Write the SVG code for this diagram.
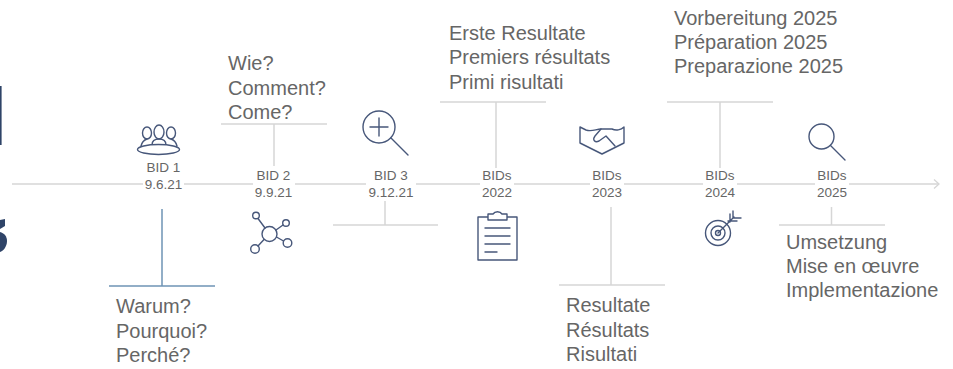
<svg xmlns="http://www.w3.org/2000/svg" width="953" height="369" viewBox="0 0 953 369">
<style>
text{font-family:"Liberation Sans",Arial,sans-serif;fill:#666}
.t{font-size:20px}
.d{font-size:13.500px;text-anchor:middle}
.l{stroke:#d6d6d6;stroke-width:1.500;fill:none}
.i{stroke:#47577a;stroke-width:1.400;fill:none;stroke-linecap:round;stroke-linejoin:round}
.w{fill:#fff}
</style>
<defs>
<marker id="arrow" markerWidth="12" markerHeight="12" refX="8" refY="6" orient="auto" markerUnits="userSpaceOnUse"><path d="M3 1.500L8 6L3 10.500" fill="none" stroke="#d6d6d6" stroke-width="1.300"/></marker>
</defs>
<rect width="953" height="369" fill="#fff"/>
<g id="logo-fragment" fill="#2f4468">
<rect x="0" y="86" width="1.600" height="59"/>
<path d="M0 220L5 219L5 226L0 229Z"/>
<path d="M0 232C4 233 7 236 7 241C7 247 3 251 0 252Z"/>
</g>
<g id="connectors">
<line class="l" x1="12" y1="184" x2="939" y2="184" marker-end="url(#arrow)"/>
<path d="M162 209V286M109 286H215" fill="none" stroke="#6f94b5" stroke-width="1.500"/>
<path class="l" d="M274 124V166M221 124H327"/>
<path class="l" d="M385 201V225M333 225H438"/>
<path class="l" d="M496 102V168M440 102H546"/>
<path class="l" d="M611 207V285M559 285H665"/>
<path class="l" d="M720 102V168M667 102H773"/>
<path class="l" d="M831.500 207V225M779 225H885"/>
</g>
<g id="bid1">
<rect class="w" x="143" y="160" width="41" height="48"/>
<text class="d" x="163.500" y="172">BID 1</text><text class="d" x="163.500" y="189">9.6.21</text>
<g class="i">
<ellipse cx="147" cy="133" rx="4.500" ry="6"/><ellipse cx="171" cy="133" rx="4.500" ry="6"/>
<path d="M141 146C142 142 144 140 147 139M177 146C176 142 174 140 171 139"/>
<ellipse class="w" cx="159" cy="132" rx="5" ry="7"/>
<path d="M152 145C152 141 155 139 159 139C163 139 166 141 166 145"/>
<ellipse class="w" cx="158.500" cy="149.500" rx="21" ry="5"/>
</g>
</g>
<g id="bid2">
<rect class="w" x="253" y="168" width="42" height="32"/>
<text class="d" x="273.500" y="180">BID 2</text><text class="d" x="273.500" y="197">9.9.21</text>
<g class="i">
<circle cx="269.500" cy="234" r="7.500"/><circle cx="256" cy="215.500" r="3.300"/><circle cx="286" cy="223" r="3.300"/><circle cx="255" cy="249" r="4.300"/><circle cx="287.500" cy="243" r="4.300"/>
<path d="M258 218.500L265 228M283 225L276 230M258 246L264 239.500M283.500 241L276.500 237"/>
</g>
</g>
<g id="bid3">
<rect class="w" x="366" y="167" width="50" height="34"/>
<text class="d" x="391" y="180">BID 3</text><text class="d" x="391" y="197">9.12.21</text>
<g class="i">
<circle cx="379" cy="127" r="16"/><path d="M379 118V136M370 127H388M391 138L408 155"/>
</g>
</g>
<g id="bids2022">
<rect class="w" x="480" y="168" width="34" height="32"/>
<text class="d" x="497" y="180">BIDs</text><text class="d" x="497" y="197">2022</text>
<g class="i">
<path d="M488 217H478V260H517V217H507M488 220V214H493C495 211 500 211 502 214H507V220Z"/>
<path d="M485 228H510M485 236H510M485 244H510M485 252H497"/>
</g>
</g>
<g id="bids2023">
<rect class="w" x="590" y="168" width="34" height="32"/>
<text class="d" x="607" y="180">BIDs</text><text class="d" x="607" y="197">2023</text>
<g class="i">
<path d="M580 127L586 130C592 132 596 129 601 129L612 129C616 131 621 130 624 127V143L602 154L580 143Z"/>
<path d="M601 129L595 136C592 140 595 143 599 141L606 136L615 146"/>
</g>
</g>
<g id="bids2024">
<rect class="w" x="703" y="168" width="34" height="32"/>
<text class="d" x="720" y="180">BIDs</text><text class="d" x="720" y="197">2024</text>
<g class="i">
<circle cx="718" cy="233" r="12.500"/><circle cx="718" cy="233" r="7"/><circle cx="718" cy="233" r="2.500"/>
<path d="M718 233L734 217M733 211L733 218L741 218M728 221L737 221M730 214L730 222"/>
</g>
</g>
<g id="bids2025">
<rect class="w" x="815" y="168" width="34" height="32"/>
<text class="d" x="832" y="180">BIDs</text><text class="d" x="832" y="197">2025</text>
<g class="i">
<circle cx="821.500" cy="136.500" r="12.500"/><path d="M830.500 145.500L845 160"/>
</g>
</g>
<g id="labels">
<text class="t" x="116" y="313">Warum?</text><text class="t" x="116" y="338">Pourquoi?</text><text class="t" x="116" y="362">Perché?</text>
<text class="t" x="228" y="70">Wie?</text><text class="t" x="228" y="95">Comment?</text><text class="t" x="228" y="119">Come?</text>
<text class="t" x="449" y="40">Erste Resultate</text><text class="t" x="449" y="64">Premiers résultats</text><text class="t" x="449" y="89">Primi risultati</text>
<text class="t" x="566" y="312">Resultate</text><text class="t" x="566" y="337">Résultats</text><text class="t" x="566" y="361">Risultati</text>
<text class="t" x="674" y="25">Vorbereitung 2025</text><text class="t" x="674" y="49">Préparation 2025</text><text class="t" x="674" y="73">Preparazione 2025</text>
<text class="t" x="786" y="249">Umsetzung</text><text class="t" x="786" y="273">Mise en œuvre</text><text class="t" x="786" y="297">Implementazione</text>
</g>
</svg>
